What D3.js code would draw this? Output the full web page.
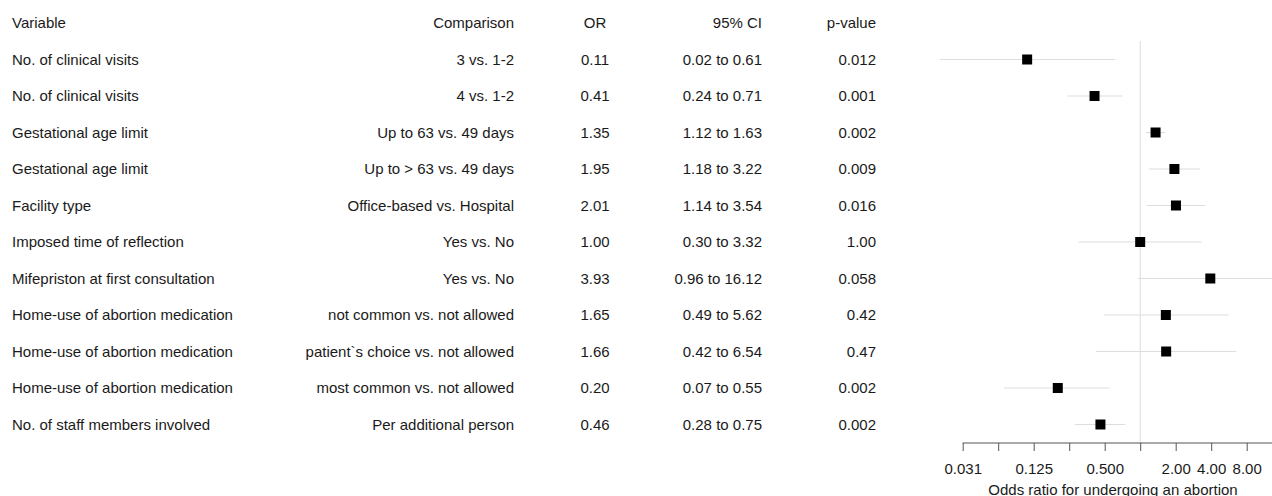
<!DOCTYPE html>
<html>
<head>
<meta charset="utf-8">
<script src="https://cdn.jsdelivr.net/npm/d3@7"></script>
<style>
  body { margin: 0; background: #fff; }
  text { font-family: "Liberation Sans", Arial, Helvetica, sans-serif; fill: #1a1a1a; }
</style>
</head>
<body>
<svg id="chart"></svg>
<script>
const variables = [
    "No. of clinical visits", "No. of clinical visits", "Gestational age limit",
    "Gestational age limit", "Facility type", "Imposed time of reflection",
    "Mifepriston at first consultation", "Home-use of abortion medication",
    "Home-use of abortion medication", "Home-use of abortion medication",
    "No. of staff members involved"
];
const comparisons = [
    "3 vs. 1-2", "4 vs. 1-2", "Up to 63 vs. 49 days", "Up to > 63 vs. 49 days",
    "Office-based vs. Hospital", "Yes vs. No", "Yes vs. No",
    "not common vs. not allowed", "patient`s choice vs. not allowed",
    "most common vs. not allowed", "Per additional person"
];
const oddsRatios = [0.11, 0.41, 1.35, 1.95, 2.01, 1.00, 3.93, 1.65, 1.66, 0.20, 0.46];
const ciLower = [0.02, 0.24, 1.12, 1.18, 1.14, 0.30, 0.96, 0.49, 0.42, 0.07, 0.28];
const ciUpper = [0.61, 0.71, 1.63, 3.22, 3.54, 3.32, 16.12, 5.62, 6.54, 0.55, 0.75];
const orLabels = ["0.11", "0.41", "1.35", "1.95", "2.01", "1.00", "3.93", "1.65", "1.66", "0.20", "0.46"];
const ciLabels = ["0.02 to 0.61", "0.24 to 0.71", "1.12 to 1.63", "1.18 to 3.22", "1.14 to 3.54",
    "0.30 to 3.32", "0.96 to 16.12", "0.49 to 5.62", "0.42 to 6.54", "0.07 to 0.55", "0.28 to 0.75"];
const pValues = ["0.012", "0.001", "0.002", "0.009", "0.016", "1.00", "0.058", "0.42", "0.47", "0.002", "0.002"];
const tickValues = [1/32, 1/16, 1/8, 1/4, 1/2, 1, 2, 4, 8];
const tickLabels = {0.03125: "0.031", 0.125: "0.125", 0.5: "0.500", 2: "2.00", 4: "4.00", 8: "8.00"};

const width = 1272, height = 496;
const svg = d3.select("#chart").attr("width", width).attr("height", height);

const rows = d3.range(oddsRatios.length);

const yScale = d3.scalePoint()
    .domain(rows)
    .range([59.5, 424.5]);

const xScale = d3.scaleLog()
    .base(2)
    .domain([1/32, 8])
    .range([962.7, 1246.7]);

const fontSize = "15px";

// header row
const headers = [
    {text: "Variable", x: 12, anchor: "start"},
    {text: "Comparison", x: 514, anchor: "end"},
    {text: "OR", x: 595, anchor: "middle"},
    {text: "95% CI", x: 762, anchor: "end"},
    {text: "p-value", x: 876, anchor: "end"}
];
svg.selectAll(".header")
    .data(headers)
    .join("text")
    .attr("class", "header")
    .attr("x", d => d.x)
    .attr("y", 23)
    .attr("dy", "0.35em")
    .attr("text-anchor", d => d.anchor)
    .style("font-size", fontSize)
    .text(d => d.text);

// table columns
const columns = [
    {vals: variables, x: 12, anchor: "start"},
    {vals: comparisons, x: 514, anchor: "end"},
    {vals: orLabels, x: 595, anchor: "middle"},
    {vals: ciLabels, x: 762, anchor: "end"},
    {vals: pValues, x: 876, anchor: "end"}
];
columns.forEach(function(col, c) {
    svg.selectAll(".col" + c)
        .data(rows)
        .join("text")
        .attr("class", "col" + c)
        .attr("x", col.x)
        .attr("y", d => yScale(d))
        .attr("dy", "0.35em")
        .attr("text-anchor", col.anchor)
        .style("font-size", fontSize)
        .text(d => col.vals[d]);
});

// plot area
const plot = svg.append("g");

// reference line at OR = 1
plot.append("line")
    .attr("x1", xScale(1)).attr("x2", xScale(1))
    .attr("y1", 41).attr("y2", 443)
    .attr("stroke", "#dcdcdc")
    .attr("stroke-width", 1);

// confidence intervals
plot.selectAll(".ci")
    .data(rows)
    .join("line")
    .attr("class", "ci")
    .attr("x1", d => xScale(ciLower[d]))
    .attr("x2", d => xScale(ciUpper[d]))
    .attr("y1", d => yScale(d))
    .attr("y2", d => yScale(d))
    .attr("stroke", "#dedede")
    .attr("stroke-width", 1.2);

// point estimates
const sq = 10;
plot.selectAll(".pt")
    .data(rows)
    .join("rect")
    .attr("class", "pt")
    .attr("x", d => xScale(oddsRatios[d]) - sq / 2)
    .attr("y", d => yScale(d) - sq / 2)
    .attr("width", sq)
    .attr("height", sq)
    .attr("fill", "#000");

// x axis
const xAxis = d3.axisBottom(xScale)
    .tickValues(tickValues)
    .tickSize(8)
    .tickPadding(12)
    .tickFormat(d => tickLabels[d] || "");

const xAxisG = svg.append("g")
    .attr("transform", "translate(0,443)")
    .call(xAxis);

xAxisG.select(".domain")
    .attr("d", `M${xScale(1/32)},0H${width}`)
    .attr("stroke", "#555");
xAxisG.selectAll(".tick line").attr("stroke", "#555");
xAxisG.selectAll(".tick text")
    .style("font-size", fontSize)
    .style("font-family", "'Liberation Sans', Arial, sans-serif")
    .attr("fill", "#1a1a1a");

svg.append("text")
    .attr("x", 1113)
    .attr("y", 490)
    .attr("dy", "0.35em")
    .attr("text-anchor", "middle")
    .style("font-size", fontSize)
    .text("Odds ratio for undergoing an abortion");
</script>
</body>
</html>
